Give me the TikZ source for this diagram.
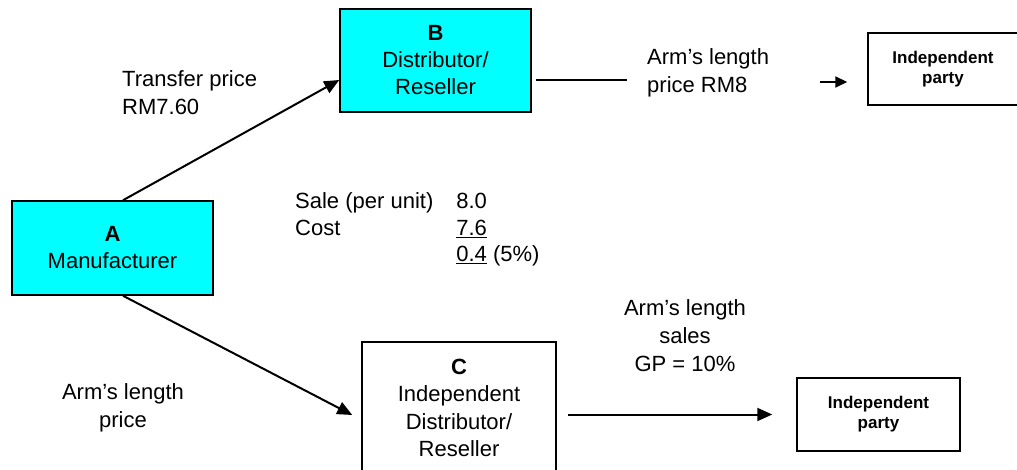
\documentclass[tikz,border=0pt]{standalone}
\usepackage{fontspec}
\setmainfont{Liberation Sans}
\usepackage{xcolor}
\usetikzlibrary{positioning,arrows.meta}
\definecolor{boxcyan}{RGB}{0,255,255}
\tikzset{
  firm/.style={draw, line width=1.5pt, fill=boxcyan, align=center, font=\fontsize{22}{27}\selectfont},
  indep/.style={draw, line width=1.5pt, fill=white, align=center, font=\fontsize{22}{27.5}\selectfont},
  party/.style={draw, line width=1.5pt, fill=white, align=center, font=\fontsize{17}{20}\selectfont\bfseries},
  lbl/.style={inner sep=0pt, font=\fontsize{22}{28}\selectfont},
  flow/.style={line width=2pt, -{Triangle[length=15pt,width=13pt]}},
}

\begin{document}
\begin{tikzpicture}[x=1pt,y=-1pt]
    \useasboundingbox (0,0) rectangle (1017,470);
    \clip (0,0) rectangle (1017,470);

    % Companies
    \node [firm, minimum width=201pt, minimum height=94pt] (a) at (112.5,248) {\textbf{A}\\Manufacturer};
    \node [firm, minimum width=191pt, minimum height=103pt] (b) at (435.5,60.5) {\textbf{B}\\Distributor/\\Reseller};
    \node [indep, minimum width=194pt, minimum height=132pt] (c) at (459,408) {\textbf{C}\\Independent\\Distributor/\\Reseller};
    \node [party, minimum width=150pt, minimum height=72pt] (p1) at (943,69) {Independent\\party};
    \node [party, minimum width=163pt, minimum height=73pt] (p2) at (878.5,414.5) {Independent\\party};

    % Flows
    \draw [flow] ([xshift=10.5pt]a.north) -- ([yshift=-19.5pt]b.west);
    \draw [flow] ([xshift=10.5pt]a.south) -- ([shift={(-9pt,-7pt)}]c.west);
    \coordinate (bend) at (627,80);
    \draw [line width=2pt, shorten <=4pt] (b.east |- bend) -- (bend);
    \coordinate (pstart) at (820,82);
    \draw [line width=2pt, -{Triangle[length=12pt,width=11pt]}, shorten >=20pt] (pstart) -- (pstart -| p1.west);
    \draw [flow, shorten <=11pt, shorten >=24pt] (c.east |- p2.west) -- (p2.west);

    % Prices
    \node [lbl, align=left, anchor=north west] (tp) at (122,70) {Transfer price\\RM7.60};
    \node [lbl, align=center, anchor=north] (alp) at (123,383) {Arm’s length\\price};
    \node [lbl, align=left, anchor=north west] (alb) at (647,48) {Arm’s length\\price RM8};
    \node [lbl, align=center, anchor=north] (als) at (685,299) {Arm’s length\\sales\\GP = 10\%};

    % Margin of B
    \node [lbl, anchor=north west, font=\fontsize{22}{26.5}\selectfont] (sum) at (295,190) {%
      \begin{tabular}{@{}l@{\hspace{23pt}}l@{}}
        Sale (per unit) & 8.0\\
        Cost & \underline{7.6}\\
             & \underline{0.4} (5\%)
      \end{tabular}};
\end{tikzpicture}
\end{document}
